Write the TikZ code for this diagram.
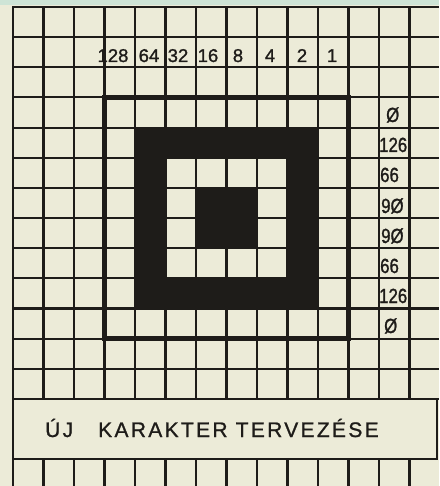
\documentclass[tikz,border=0pt]{standalone}
\usepackage{fontspec}
\setmainfont{Liberation Sans}
\newfontfamily\labelfont[FakeBold=1.2]{Liberation Sans}
\newfontfamily\digitfont[FakeStretch=0.82,FakeBold=1.2]{Liberation Sans}
\newfontfamily\titlefont[LetterSpace=11,FakeBold=1]{Liberation Sans}
\definecolor{paper}{RGB}{236,235,216}
\definecolor{tint}{RGB}{206,228,214}
\definecolor{ink}{RGB}{30,28,25}
\begin{document}
\begin{tikzpicture}[x=1pt,y=-1pt,
  gridline/.style={draw=ink,line width=2.1pt},
  squareline/.style={draw=ink,line width=4.6pt},
  toplabel/.style={font=\labelfont\fontsize{18.5}{18.5}\selectfont,text=ink,inner sep=0pt,anchor=base},
  sidelabel/.style={font=\digitfont\fontsize{20.5}{20.5}\selectfont,text=ink,inner sep=0pt,anchor=base west},
  titletext/.style={font=\titlefont\fontsize{21}{21}\selectfont,text=ink,inner sep=0pt,anchor=base west},
  titlebox/.style={draw=ink,line width=2.1pt,fill=paper}]
\useasboundingbox (0,0) rectangle (439,486);
\fill[paper] (0,0) rectangle (439,486);
\fill[tint] (0,0) rectangle (439,5);
% grid
\foreach \k in {0,...,13}{
  \pgfmathsetmacro\xx{13+30.5*\k}
  \draw[gridline] (\xx,6.5) -- (\xx,486);
}
\foreach \k in {0,...,13}{
  \pgfmathsetmacro\yy{7+30.15*\k}
  \draw[gridline] (12,\yy) -- (439,\yy);
}
% title box
\draw[titlebox] (13,399) rectangle (437,459);
% bold 8x8 outline
\draw[squareline] (104.5,97.5) rectangle (348.5,338.7);
% black pattern
\fill[ink,even odd rule] (135,127.6) rectangle (318,308.5) (165.5,157.8) rectangle (287.5,278.4);
\fill[ink] (196,187.9) rectangle (257,248.2);
% bit weights
\node[toplabel] (b128) at (113,62) {128};
\node[toplabel] (b64) at (149,62) {64};
\node[toplabel] (b32) at (178,62) {32};
\node[toplabel] (b16) at (208,62) {16};
\node[toplabel] (b8) at (238,62) {8};
\node[toplabel] (b4) at (270,62) {4};
\node[toplabel] (b2) at (302,62) {2};
\node[toplabel] (b1) at (332,62) {1};
% row values
\node[sidelabel] (r0) at (386,122) {Ø};
\node[sidelabel] (r1) at (379,152) {126};
\node[sidelabel] (r2) at (380,182) {66};
\node[sidelabel] (r3) at (381,213) {9Ø};
\node[sidelabel] (r4) at (381,243) {9Ø};
\node[sidelabel] (r5) at (380,273) {66};
\node[sidelabel] (r6) at (379,303) {126};
\node[sidelabel] (r7) at (384,333) {Ø};
% title
\node[titletext] (uj) at (45,437) {ÚJ};
\node[titletext] (title) at (98,437) {KARAKTER TERVEZÉSE};
\end{tikzpicture}
\end{document}
